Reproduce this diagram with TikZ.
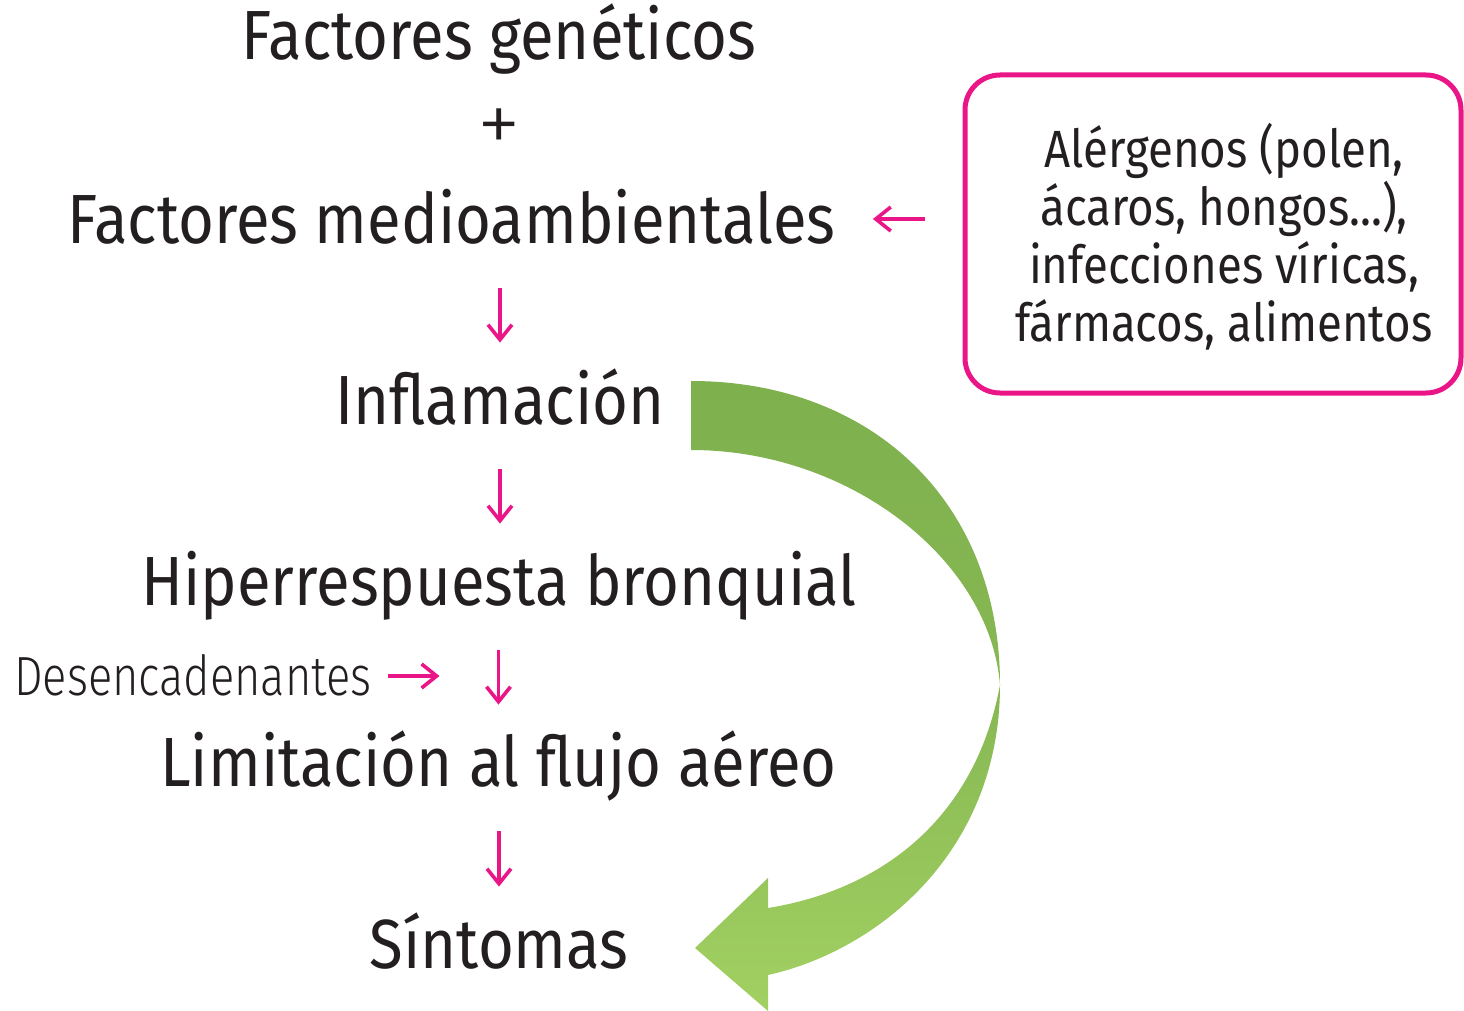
\documentclass[tikz,border=0pt]{standalone}
\usepackage{fontspec}
\setmainfont{Fira Sans}[FakeStretch=0.885]
\newfontfamily\lightfont{Fira Sans Light}[FakeStretch=0.82]
\newfontfamily\plusfont{Fira Sans Light}
\newfontfamily\boxfont{Fira Sans}[FakeStretch=0.87]
\usetikzlibrary{arrows.meta}
\definecolor{pinkc}{RGB}{234,22,136}
\definecolor{txt}{RGB}{35,31,32}
\definecolor{gtop}{RGB}{126,176,78}
\definecolor{gmid}{RGB}{135,184,83}
\definecolor{gbot}{RGB}{162,208,98}
\begin{document}
\begin{tikzpicture}[x=0.5pt,y=-0.5pt,
  main/.style={font=\fontsize{34.8pt}{40pt}\selectfont, text=txt, inner sep=0pt,
    text height=24pt, text depth=0pt, anchor=base},
  desctext/.style={font=\lightfont\fontsize{27.6pt}{32pt}\selectfont, text=txt, inner sep=0pt,
    text height=19pt, text depth=0pt, anchor=base},
  boxtext/.style={font=\boxfont\fontsize{26.2pt}{29pt}\selectfont, text=txt, inner sep=0pt, align=center},
  pinkbox/.style={draw=pinkc, line width=2.5pt, rounded corners=17.5pt,
    minimum width=248pt, minimum height=159pt, inner sep=0pt},
  parrow/.style={draw=pinkc, line width=1.8pt,
    -{Straight Barb[length=7.5pt,width=12pt,line width=1.8pt]}},
  downarrow/.style={parrow, shorten <=22.5pt, shorten >=16.5pt},
]
\useasboundingbox (0,0) rectangle (1464,1011);

% green curved arrow
\shade[top color=gtop, bottom color=gbot, middle color=gmid]
  (691,381) .. controls (870,381) and (1000,500) .. (1000,685)
  .. controls (1000,850) and (880,950) .. (768,975)
  -- (768,1011) -- (695,948) -- (768,878) -- (768,908)
  .. controls (880,890) and (975,820) .. (1000,685)
  .. controls (990,560) and (850,450) .. (691,450) -- cycle;

% main column
\node[main] (fg) at (499,60) {Factores genéticos};
\node[text=txt, inner sep=0pt, font=\plusfont\fontsize{44pt}{46pt}\selectfont] (plus) at (499,131) {+};
\node[main] (fm) at (451.5,243) {Factores medioambientales};
\node[main] (infl) at (500,424) {Inflamación};
\node[main] (hiper) at (499,605) {Hiperrespuesta bronquial};
\node[main] (lim) at (498.5,786) {Limitación al flujo aéreo};
\node[main] (sint) at (499,968) {Síntomas};
\node[desctext] (desc) at (193,695) {Desencadenantes};

% box
\node[pinkbox] (box) at (1213,234) {};
\node[boxtext] (boxt) at (1224,237) {Alérgenos (polen,\\ácaros, hongos...),\\infecciones víricas,\\fármacos, alimentos};

% arrows
\draw[downarrow] (infl.north |- fm.south) -- (infl.north);
\draw[downarrow] (infl.south) -- (infl.south |- hiper.north);
\draw[downarrow] (lim.north |- hiper.south) -- (lim.north);
\draw[downarrow] (sint.north |- lim.south) -- (sint.north);
\draw[parrow, shorten <=19pt, shorten >=18.5pt] (box.west |- fm.east) -- (fm.east);
\draw[parrow, shorten <=8pt, shorten >=29.5pt] (desc.east) -- (desc.east -| lim.north);
\end{tikzpicture}
\end{document}
